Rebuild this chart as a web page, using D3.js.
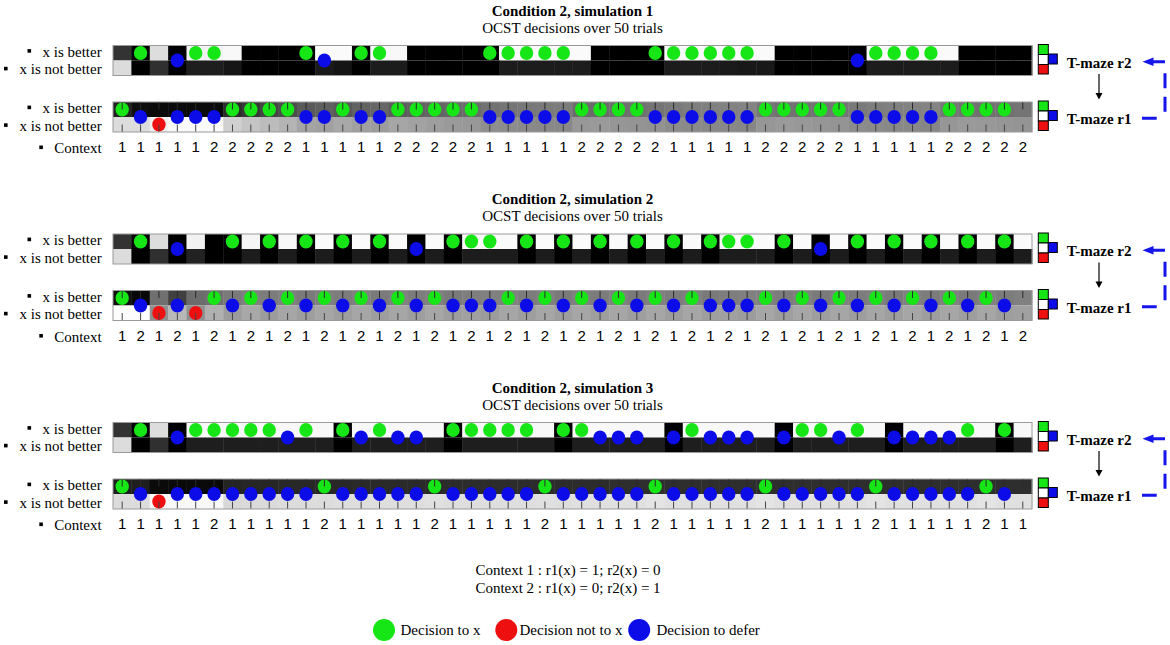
<!DOCTYPE html>
<html><head><meta charset="utf-8">
<script src="https://cdn.jsdelivr.net/npm/d3@7/dist/d3.min.js"></script>
<style>body{margin:0;background:#fff}svg{display:block}</style>
</head><body>
<script>
// ---------- data ----------
const titles = ["Condition 2, simulation 1","Condition 2, simulation 2","Condition 2, simulation 3"];
const subtitle = "OCST decisions over 50 trials";
const rowLabels = ["x is better","x is not better"];
const mazeLabels = ["T-maze r2","T-maze r1"];
const contextNotes = ["Context 1 : r1(x) = 1; r2(x) = 0","Context 2 : r1(x) = 0; r2(x) = 1"];
const legendItems = ["Decision to x","Decision not to x","Decision to defer"];

// context per trial
const ctx1 = [1,1,1,1,1,2,2,2,2,2,1,1,1,1,1,2,2,2,2,2,1,1,1,1,1,2,2,2,2,2,1,1,1,1,1,2,2,2,2,2,1,1,1,1,1,2,2,2,2,2];
const ctx2 = [1,2,1,2,1,2,1,2,1,2,1,2,1,2,1,2,1,2,1,2,1,2,1,2,1,2,1,2,1,2,1,2,1,2,1,2,1,2,1,2,1,2,1,2,1,2,1,2,1,2];
const ctx3 = [1,1,1,1,1,2,1,1,1,1,1,2,1,1,1,1,1,2,1,1,1,1,1,2,1,1,1,1,1,2,1,1,1,1,1,2,1,1,1,1,1,2,1,1,1,1,1,2,1,1];

// decisions: "x" = to x, "n" = not to x, "d" = defer, "" = none
const r1Dec1 = ["x","d","n","d","d","d","x","x","x","x", "d","d","x","d","d","x","x","x","x","x", "d","d","d","d","d","x","x","x","x","d", "d","d","d","d","d","x","x","x","x","x", "d","d","d","d","d","x","x","x","x",""];
const r2Dec1 = ["","x","","d","x","x","","","","", "x","d","","x","x","","","","","", "x","x","x","x","x","","","","","x", "x","x","x","x","x","","","","","", "d","x","x","x","x","","","","",""];
const r1Dec2 = ["x","d","n","d","n","x","d","x","d","x", "d","x","d","x","d","x","d","x","d","d", "d","x","d","x","d","x","d","x","d","x", "d","x","d","d","d","x","d","x","d","x", "d","x","d","x","d","x","d","x","d",""];
const r2Dec2 = ["","x","","d","","","x","","x","", "x","","x","","x","","d","","x","x", "x","","x","","x","","x","","x","", "x","","x","x","x","","x","","d","", "x","","x","","x","","x","","x",""];
const r1Dec3 = ["x","d","n","d","d","d","d","d","d","d", "d","x","d","d","d","d","d","x","d","d", "d","d","d","x","d","d","d","d","d","x", "d","d","d","d","d","x","d","d","d","d", "d","x","d","d","d","d","d","x","d",""];
const r2Dec3 = ["","x","","d","x","x","x","x","x","d", "x","","x","d","x","d","d","","x","x", "x","x","x","","x","x","d","d","d","", "d","x","d","d","d","","d","x","x","d", "x","","d","d","d","d","x","","x",""];

// cell brightness (0 = black, 255 = white)
const r2Top1 = [51,0,221,0,242,242,248,0,0,0, 0,250,250,0,248,248,0,0,0,0, 0,250,250,250,250,250,0,0,0,0, 250,250,250,250,250,250,0,0,0,0, 0,250,250,250,250,250,0,0,0,0];
const r2Bot1 = [220,0,48,0,30,30,22,0,0,0, 0,26,20,0,28,28,0,0,0,0, 0,28,28,28,28,28,0,0,0,0, 28,28,28,26,24,24,0,0,0,0, 0,28,28,28,28,28,0,0,0,0];
const r1Top1 = [34,14,10,10,10,10,44,56,68,76, 90,96,88,98,102,92,96,100,104,106, 114,117,120,122,124,108,106,110,112,116, 122,126,128,130,132,118,114,112,114,116, 122,126,128,130,132,118,114,112,114,116];
const r1Bot1 = [220,220,240,250,250,250,208,196,188,180, 164,160,168,160,156,166,162,158,154,152, 142,140,138,136,136,152,154,150,148,146, 140,138,136,136,134,150,154,152,150,148, 140,138,136,136,134,150,154,152,150,148];

const r2Top2 = [51,0,221,0,242,0,0,245,0,248, 0,250,0,250,0,250,0,250,0,250, 250,250,0,250,0,250,0,250,0,250, 0,250,0,250,250,250,0,250,0,250, 0,250,0,250,0,250,0,250,0,250];
const r2Bot2 = [220,0,48,0,34,0,0,28,0,28, 0,28,0,28,0,28,0,28,0,28, 28,28,0,28,0,28,0,28,0,28, 0,28,0,28,28,28,0,28,0,28, 0,28,0,28,0,28,0,28,0,28];
const r1Top2 = [16,8,112,64,108,112,122,128,124,128, 122,128,124,128,122,128,124,128,122,126, 128,128,124,128,122,128,124,128,122,128, 124,128,122,126,128,128,124,128,122,128, 124,128,122,128,124,128,122,128,124,128];
const r1Bot2 = [252,252,144,184,144,176,156,168,156,166, 158,166,158,166,158,166,158,166,158,160, 156,166,158,166,158,166,158,166,158,166, 158,166,158,160,156,166,158,166,158,166, 158,166,158,166,158,166,158,166,158,160];

const r2Top3 = [51,0,221,0,248,248,248,248,248,248, 248,248,0,248,248,248,248,248,0,248, 248,248,248,248,0,248,248,248,248,248, 0,248,248,248,248,248,0,248,248,248, 248,248,0,248,248,248,248,248,0,248];
const r2Bot3 = [220,0,48,0,30,30,30,30,30,30, 30,30,0,30,30,30,30,30,0,30, 30,30,30,30,0,30,30,30,30,30, 0,30,30,30,30,30,0,30,30,30, 30,30,0,30,30,30,30,30,0,30];
const r1Top3 = [30,30,10,10,10,10,36,38,38,40, 40,40,40,42,42,42,42,42,44,44, 44,44,44,44,44,44,44,46,46,46, 46,46,46,46,46,46,46,46,46,46, 46,46,46,46,46,46,46,46,46,46];
const r1Bot3 = [220,220,248,248,248,248,216,218,218,220, 220,220,222,222,222,222,222,224,222,222, 222,222,222,224,222,224,224,224,224,228, 224,224,224,224,224,228,224,224,224,224, 224,228,224,224,224,224,224,228,224,224];

const sims = [
  {title: titles[0], ctx: ctx1, r2: r2Dec1, r1: r1Dec1, r2T: r2Top1, r2B: r2Bot1, r1T: r1Top1, r1B: r1Bot1},
  {title: titles[1], ctx: ctx2, r2: r2Dec2, r1: r1Dec2, r2T: r2Top2, r2B: r2Bot2, r1T: r1Top2, r1B: r1Bot2},
  {title: titles[2], ctx: ctx3, r2: r2Dec3, r1: r1Dec3, r2T: r2Top3, r2B: r2Bot3, r1T: r1Top3, r1B: r1Bot3}
];

// ---------- drawing ----------
const W = 1170, H = 645;
const SERIF = "'Liberation Serif','Times New Roman',serif";
const SANS = "'Liberation Sans',Arial,sans-serif";
const COL = {x: "rgb(22,230,22)", n: "rgb(238,16,16)", d: "rgb(12,12,232)"};

const svg = d3.select("body").append("svg").attr("width", W).attr("height", H);

const trials = d3.range(ctx1.length);
const x = d3.scaleBand().domain(trials).range([113, 1032]).paddingInner(0).paddingOuter(0);
const bw = x.bandwidth();
const cx = k => x(k) + bw / 2;
const rowH = 15;
const gray = v => d3.rgb(v, v, v).toString();
const dotY = {x: 7.5, d: 15, n: 22.5};

function strip(g, top, topVals, botVals, decs, withTicks) {
  const s = g.append("g");
  s.selectAll("rect.t").data(trials).join("rect")
    .attr("x", k => x(k)).attr("y", top).attr("width", bw + 0.4).attr("height", rowH)
    .attr("fill", k => gray(topVals[k]));
  s.selectAll("rect.b").data(trials).join("rect")
    .attr("x", k => x(k)).attr("y", top + rowH).attr("width", bw + 0.4).attr("height", rowH)
    .attr("fill", k => gray(botVals[k]));
  s.append("rect").attr("x", x.range()[0]).attr("y", top)
    .attr("width", x.range()[1] - x.range()[0]).attr("height", 2 * rowH)
    .attr("fill", "none").attr("stroke", "#9a9a9a").attr("stroke-width", 1);
  const withDec = trials.filter(k => decs[k] !== "");
  s.selectAll("ellipse").data(withDec).join("ellipse")
    .attr("cx", k => cx(k)).attr("cy", k => top + dotY[decs[k]])
    .attr("rx", 6.7).attr("ry", 7.1)
    .attr("fill", k => COL[decs[k]]);
  if (withTicks) {
    s.selectAll("line.tt").data(trials).join("line")
      .attr("x1", k => cx(k)).attr("x2", k => cx(k))
      .attr("y1", top + 0.5).attr("y2", top + 7.5)
      .attr("stroke", "#2a2a2a").attr("stroke-width", 1);
    s.selectAll("line.tb").data(trials).join("line")
      .attr("x1", k => cx(k)).attr("x2", k => cx(k))
      .attr("y1", top + 2 * rowH - 7.5).attr("y2", top + 2 * rowH - 0.5)
      .attr("stroke", "#444").attr("stroke-width", 1);
  }
}

function rowLabelPair(g, top) {
  // "x is better" / "x is not better" with bullets
  g.append("text").attr("x", 101.7).attr("y", top + 11).attr("text-anchor", "end")
    .attr("font-family", SERIF).attr("font-size", 15).text(rowLabels[0]);
  g.append("rect").attr("x", 27.5).attr("y", top + 3.6).attr("width", 3.6).attr("height", 3.6).attr("fill", "#000");
  g.append("text").attr("x", 101.7).attr("y", top + 28.5).attr("text-anchor", "end")
    .attr("font-family", SERIF).attr("font-size", 15).text(rowLabels[1]);
  g.append("rect").attr("x", 4).attr("y", top + 21.3).attr("width", 3.6).attr("height", 3.6).attr("fill", "#000");
}

function mazeLegend(g, top, label) {
  const lx = 1038.3, sq = 10;
  g.append("rect").attr("x", lx).attr("y", top - 1).attr("width", sq).attr("height", sq)
    .attr("fill", COL.x).attr("stroke", "#000").attr("stroke-width", 1);
  g.append("rect").attr("x", lx).attr("y", top - 1 + sq).attr("width", sq).attr("height", sq)
    .attr("fill", "#fff").attr("stroke", "#000").attr("stroke-width", 1);
  g.append("rect").attr("x", lx).attr("y", top - 1 + 2 * sq).attr("width", sq).attr("height", sq - 0.5)
    .attr("fill", COL.n).attr("stroke", "#000").attr("stroke-width", 1);
  g.append("rect").attr("x", lx + sq).attr("y", top - 1.5 + sq).attr("width", sq - 1).attr("height", sq)
    .attr("fill", COL.d).attr("stroke", "#000").attr("stroke-width", 1);
  g.append("text").attr("x", 1066.7).attr("y", top + 22)
    .attr("font-family", SERIF).attr("font-size", 15).attr("font-weight", "bold").text(label);
}

const step = 188.5;
sims.forEach((sim, i) => {
  const oy = i * step;
  const g = svg.append("g");
  const r2top = 45.5 + oy, r1top = 102 + oy;

  g.append("text").attr("x", 572.5).attr("y", 15.7 + oy).attr("text-anchor", "middle")
    .attr("font-family", SERIF).attr("font-size", 15).attr("font-weight", "bold").text(sim.title);
  g.append("text").attr("x", 572.5).attr("y", 32.5 + oy).attr("text-anchor", "middle")
    .attr("font-family", SERIF).attr("font-size", 15).text(subtitle);

  strip(g, r2top, sim.r2T, sim.r2B, sim.r2, false);
  strip(g, r1top, sim.r1T, sim.r1B, sim.r1, true);

  rowLabelPair(g, r2top);
  rowLabelPair(g, r1top);

  // context row
  const cy = 152.3 + oy;
  g.append("text").attr("x", 101.7).attr("y", cy + 0.8).attr("text-anchor", "end")
    .attr("font-family", SERIF).attr("font-size", 15).text("Context");
  g.append("rect").attr("x", 39.3).attr("y", cy - 6.8).attr("width", 3.6).attr("height", 3.6).attr("fill", "#000");
  g.selectAll("text.ctx").data(trials).join("text")
    .attr("x", k => cx(k)).attr("y", cy).attr("text-anchor", "middle")
    .attr("font-family", SANS).attr("font-size", 15).text(k => sim.ctx[k]);

  // right legends
  mazeLegend(g, r2top, mazeLabels[0]);
  mazeLegend(g, r1top, mazeLabels[1]);

  // black arrow r2 -> r1
  g.append("line").attr("x1", 1099).attr("x2", 1099).attr("y1", r2top + 28.5).attr("y2", r1top - 8)
    .attr("stroke", "#000").attr("stroke-width", 1.2);
  g.append("path").attr("d", `M1095.5,${r1top - 9} L1102.5,${r1top - 9} L1099,${r1top - 2.5} Z`).attr("fill", "#000");

  // blue dashed loop r1 -> r2
  const yTop = r2top + 16.2, yBot = r1top + 16.3;
  g.append("path").attr("d", `M1152,${yTop} H1165 V${yBot} H1142`)
    .attr("fill", "none").attr("stroke", "rgb(20,20,235)").attr("stroke-width", 3)
    .attr("stroke-dasharray", "13,11.6,15,8.5,15,14.8,15");
  g.append("path").attr("d", `M1142.5,${yTop} L1153.5,${yTop - 4.3} L1153.5,${yTop + 4.3} Z`)
    .attr("fill", "rgb(20,20,235)");
});

// bottom notes
svg.selectAll("text.note").data(contextNotes).join("text")
  .attr("x", 568).attr("y", (d, i) => 575 + i * 18.3).attr("text-anchor", "middle")
  .attr("font-family", SERIF).attr("font-size", 15).text(d => d);

// decision legend
const legendCx = [384, 506.3, 639.2];
const legendTx = [400.5, 519.5, 656.5];
const legendKeys = ["x", "n", "d"];
legendItems.forEach((t, i) => {
  svg.append("circle").attr("cx", legendCx[i]).attr("cy", 630).attr("r", 11).attr("fill", COL[legendKeys[i]]);
  svg.append("text").attr("x", legendTx[i]).attr("y", 635).attr("font-family", SERIF).attr("font-size", 15).text(t);
});
</script>
</body></html>
